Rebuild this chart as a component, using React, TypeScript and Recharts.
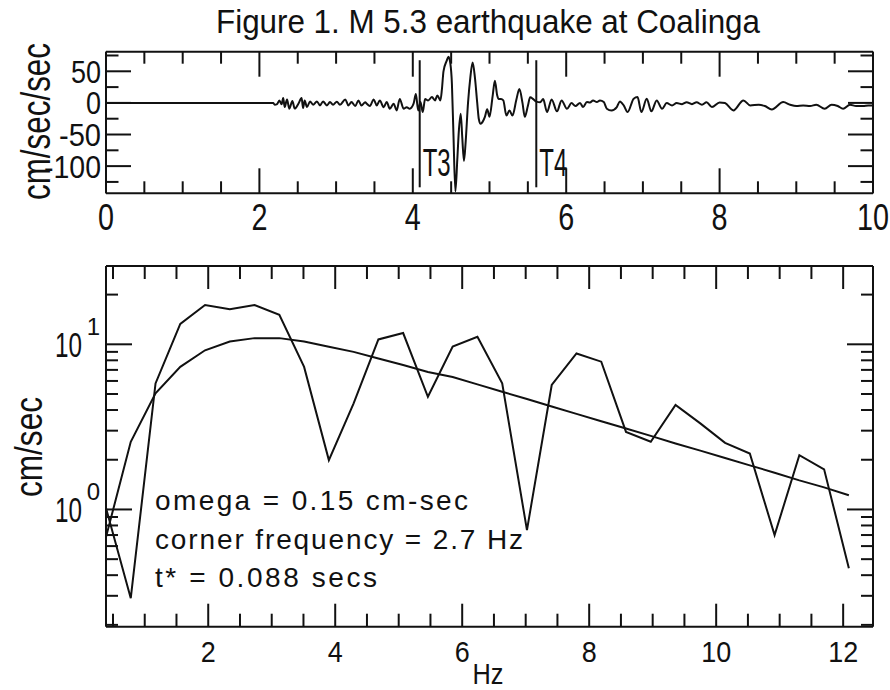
import React from "react";
import { LineChart, Line, XAxis, YAxis, ReferenceLine } from "recharts";

const TITLE = "Figure 1. M 5.3 earthquake at Coalinga";

// seismogram (seconds, cm/sec/sec)
const TRACE_T = [
  0, 2.18, 2.2, 2.23, 2.26, 2.29, 2.31, 2.33, 2.36, 2.39, 2.43, 2.46, 2.51, 2.55,
  2.57, 2.59, 2.62, 2.66, 2.7, 2.75, 2.79, 2.83, 2.88, 2.92, 2.96, 3.01, 3.05,
  3.12, 3.16, 3.2, 3.25, 3.29, 3.33, 3.38, 3.4, 3.44, 3.49, 3.53, 3.57, 3.62,
  3.66, 3.7, 3.75, 3.79, 3.83, 3.88, 3.92, 3.96, 4.01, 4.04, 4.07, 4.1, 4.13,
  4.16, 4.2, 4.25, 4.29, 4.32, 4.36, 4.38, 4.4, 4.44, 4.465, 4.49, 4.51, 4.53,
  4.555, 4.58, 4.6, 4.625, 4.645, 4.667, 4.69, 4.72, 4.75, 4.78, 4.81, 4.84,
  4.86, 4.885, 4.91, 4.94, 4.97, 5.0, 5.04, 5.07, 5.1, 5.12, 5.15, 5.18, 5.22,
  5.26, 5.3, 5.35, 5.39, 5.43, 5.46, 5.5, 5.53, 5.57, 5.61, 5.66, 5.7, 5.75,
  5.81, 5.88, 5.94, 6.01, 6.07, 6.12, 6.18, 6.22, 6.27, 6.31, 6.35, 6.4, 6.44,
  6.49, 6.53, 6.59, 6.66, 6.7, 6.75, 6.8, 6.88, 6.93, 6.98, 7.05, 7.11, 7.18,
  7.25, 7.31, 7.38, 7.44, 7.51, 7.57, 7.64, 7.7, 7.77, 7.83, 7.9, 8.0, 8.07,
  8.18, 8.31, 8.4, 8.51, 8.59, 8.68, 8.83, 8.92, 9.0, 9.09, 9.18, 9.26, 9.37,
  9.46, 9.54, 9.61, 9.7, 9.78, 9.87, 9.94, 10.0,
];
const TRACE_V = [
  0, 0, -3, -2, 4, -2, 7.6, -6.6, 5.5, -9.2, 3, -9, -1, 7.6,
  -8.2, 4, -6.6, 2.4, -2.9, 2.4, -4, 2.4, -4, 1.3, -2.9, 2, -3,
  5.5, -4, 1.3, -5, 4, -4, 1, -1.3, -5, 5.5, -4, 3.9, -6.7,
  1.3, -9.2, -1.3, -11.9, 6.3, -9.2, -6.7, -9.2, -1.3, 14.2, -11.9, 1.3, -14.5,
  6.3, 3.9, 9.2, 3.9, 11.9, 3.9, 22, 50, 66, 73, 62, 30, -50,
  -140, -90, -45, -17, -55, -92, -60, 0, 40, 64, 40, 0,
  -25, -33, -30, -22, -10, -22, 10, 35, 12, 6, 6, 4, -20,
  -12, -20, 5, 22, 0, -22, -5, 9, 6, 2, 1, 6, -14.5,
  5.5, -13.4, 4, -9.2, -0.3, -5, 0, -6.6, 1.3, 0.5, 4, 1.3, 4,
  1.3, -9.2, -11.9, -6.6, 2.4, -4, -14.5, 6.6, 9.2, -14.5, 6.6, -13.4, 4,
  -9.2, -0.3, -4, -0.3, -2, 1, -2, 1, -3, 1, -6.6, 0.8, -0.3,
  -11.9, 4, -4, -2.9, -5, -10.3, 1.3, -2.9, -5, -4, -5, -2.9, -9.2,
  -2.9, -5, -9.2, -2.9, -5, -5, -4, -4,
];

const TOP_X_TICKS = [0, 0.5, 1, 1.5, 2, 2.5, 3, 3.5, 4, 4.5, 5, 5.5, 6, 6.5, 7, 7.5, 8, 8.5, 9, 9.5, 10];
const TOP_X_LABELS = [0, 2, 4, 6, 8, 10];
const TOP_Y_TICKS = [75, 50, 25, 0, -25, -50, -75, -100, -125];
const TOP_Y_LABELS = [50, 0, -50, -100];
const PICK_NAMES = ["T3", "T4"];
const PICK_TIMES = [4.09, 5.61];

// spectrum (Hz, cm/sec)
const FREQ = [
  0.39, 0.78, 1.17, 1.56, 1.95, 2.34, 2.73, 3.12, 3.51, 3.9, 4.29, 4.68, 5.07,
  5.46, 5.85, 6.24, 6.63, 7.02, 7.41, 7.8, 8.19, 8.58, 8.97, 9.36, 9.75, 10.14,
  10.53, 10.92, 11.31, 11.7, 12.09,
];
const SPECTRUM = [
  1.02, 0.29, 5.8, 13.3, 17.3, 16.3, 17.3, 15.1, 7.3, 1.99, 4.39, 10.7, 11.7,
  4.81, 9.7, 11.1, 5.8, 0.75, 5.67, 8.8, 7.85, 2.95, 2.57, 4.29, 3.32, 2.53,
  2.18, 0.7, 2.13, 1.75, 0.44,
];
const MODEL = [
  0.68, 2.57, 5.05, 7.3, 9.2, 10.4, 10.9, 10.9, 10.4, 9.67, 9.0, 8.2, 7.5,
  6.8, 6.34, 5.72, 5.16, 4.66, 4.2, 3.79, 3.42, 3.09, 2.79, 2.51, 2.27, 2.05,
  1.85, 1.67, 1.5, 1.36, 1.22,
];

const BOT_X_TICKS = [0.5, 1, 1.5, 2, 2.5, 3, 3.5, 4, 4.5, 5, 5.5, 6, 6.5, 7, 7.5, 8, 8.5, 9, 9.5, 10, 10.5, 11, 11.5, 12];
const BOT_X_LABELS = [2, 4, 6, 8, 10, 12];
const BOT_Y_TICKS = [0.2, 0.3, 0.4, 0.5, 0.6, 0.7, 0.8, 0.9, 1, 2, 3, 4, 5, 6, 7, 8, 9, 10, 20];
const BOT_Y_LABELS = [1, 10];
const NOTES = ["omega = 0.15 cm-sec", "corner frequency = 2.7 Hz", "t* = 0.088 secs"];
const NOTE_WIDTHS = [313, 368, 222];

const traceData = TRACE_T.map((t, i) => ({ t, v: TRACE_V[i] }));
const specData = FREQ.map((f, i) => ({ f, obs: SPECTRUM[i], fit: MODEL[i] }));

const FONT = "'Liberation Sans', Arial, sans-serif";
const INK = "#111";
const AXIS_LINE = { stroke: INK, strokeWidth: 2 };

const isIn = (list: number[], v: number) => list.some((l) => Math.abs(l - v) < 1e-6);

// inward tick marks; label only the major ones
const makeTick =
  (side: string, labels: number[], major: number, minor: number, label?: (x: number, y: number, v: number) => any) =>
  (props: any) => {
    const { x, y, payload } = props;
    const v = payload.value;
    const big = isIn(labels, v);
    const len = big ? major : minor;
    let x2 = x;
    let y2 = y;
    if (side === "bottom") y2 = y - len;
    if (side === "top") y2 = y + len;
    if (side === "left") x2 = x + len;
    if (side === "right") x2 = x - len;
    return (
      <g>
        <line x1={x} y1={y} x2={x2} y2={y2} stroke={INK} strokeWidth={2} />
        {big && label ? label(x, y, v) : null}
      </g>
    );
  };

const condensed = (s: string, digit: number) =>
  s.split("").reduce((w, c) => w + (c === "-" ? digit * 0.8 : digit), 0);

const topXLabel = (x: number, y: number, v: number) => (
  <text x={x} y={y + 37} textAnchor="middle" fontFamily={FONT} fontSize={36} fill={INK}
    textLength={condensed(String(v), 16)} lengthAdjust="spacingAndGlyphs">
    {v}
  </text>
);
const topYLabel = (x: number, y: number, v: number) => (
  <text x={x - 5} y={y + 11.5} textAnchor="end" fontFamily={FONT} fontSize={32} fill={INK}
    textLength={condensed(String(v), 15)} lengthAdjust="spacingAndGlyphs">
    {v}
  </text>
);
const botXLabel = (x: number, y: number, v: number) => (
  <text x={x} y={y + 35} textAnchor="middle" fontFamily={FONT} fontSize={30} fill={INK}
    textLength={condensed(String(v), 15)} lengthAdjust="spacingAndGlyphs">
    {v}
  </text>
);
const botYLabel = (x: number, y: number, v: number) => (
  <g fontFamily={FONT} fill={INK}>
    <text x={x - 24} y={y + 12.5} textAnchor="end" fontSize={35} textLength={27} lengthAdjust="spacingAndGlyphs">
      10
    </text>
    <text x={x - 6} y={y - 9} textAnchor="end" fontSize={24}>
      {Math.round(Math.log10(v))}
    </text>
  </g>
);

const pickLabel = (name: string) => (p: any) => {
  const vb = p.viewBox || {};
  return (
    <text x={(vb.x || 0) + 3} y={(vb.y || 0) + (vb.height || 0) - 11} fontFamily={FONT} fontSize={38} fill={INK}
      textLength={28} lengthAdjust="spacingAndGlyphs">
      {name}
    </text>
  );
};

const App = () => {
  return (
    <div style={{ position: "absolute", left: 0, top: 0, width: 890, height: 690, background: "#fff" }}>
      <div style={{ position: "absolute", left: 0, top: 0 }}>
        <LineChart width={890} height={240} data={traceData} margin={{ top: 41.7, right: 7, bottom: 16.7, left: 56 }}>
          <XAxis dataKey="t" type="number" domain={[0, 10]} ticks={TOP_X_TICKS} interval={0} allowDataOverflow
            tickLine={false} tickSize={0} tickMargin={0} height={30} axisLine={AXIS_LINE}
            tick={makeTick("bottom", TOP_X_LABELS, 25, 12, topXLabel)} />
          <XAxis xAxisId="top" dataKey="t" orientation="top" type="number" domain={[0, 10]} ticks={TOP_X_TICKS}
            interval={0} allowDataOverflow tickLine={false} tickSize={0} tickMargin={0} height={10}
            axisLine={AXIS_LINE} tick={makeTick("top", TOP_X_LABELS, 25, 12)} />
          <YAxis type="number" domain={[-143, 81]} ticks={TOP_Y_TICKS} interval={0} allowDataOverflow
            tickLine={false} tickSize={0} tickMargin={0} width={50} axisLine={AXIS_LINE}
            tick={makeTick("left", TOP_Y_LABELS, 25, 12.5, topYLabel)} />
          <YAxis yAxisId="r" orientation="right" type="number" domain={[-143, 81]} ticks={TOP_Y_TICKS} interval={0}
            allowDataOverflow tickLine={false} tickSize={0} tickMargin={0} width={10} axisLine={AXIS_LINE}
            tick={makeTick("right", TOP_Y_LABELS, 25, 12.5)} />
          {PICK_TIMES.map((t, i) => (
            <ReferenceLine key={PICK_NAMES[i]} segment={[{ x: t, y: 67.5 }, { x: t, y: -133.5 }]}
              stroke={INK} strokeWidth={2} label={pickLabel(PICK_NAMES[i])} />
          ))}
          <Line type="monotone" dataKey="v" stroke={INK} strokeWidth={2} dot={false} isAnimationActive={false} />
        </LineChart>
      </div>

      <div style={{ position: "absolute", left: 0, top: 240 }}>
        <LineChart width={890} height={450} data={specData} margin={{ top: 16, right: 7, bottom: 33.3, left: 56 }}>
          <XAxis dataKey="f" type="number" domain={[0.39, 12.47]} ticks={BOT_X_TICKS} interval={0} allowDataOverflow
            tickLine={false} tickSize={0} tickMargin={0} height={30} axisLine={AXIS_LINE}
            tick={makeTick("bottom", BOT_X_LABELS, 23, 13, botXLabel)} />
          <XAxis xAxisId="top" dataKey="f" orientation="top" type="number" domain={[0.39, 12.47]} ticks={BOT_X_TICKS}
            interval={0} allowDataOverflow tickLine={false} tickSize={0} tickMargin={0} height={10}
            axisLine={AXIS_LINE} tick={makeTick("top", BOT_X_LABELS, 23, 13)} />
          <YAxis type="number" scale="log" domain={[0.195, 29.8]} ticks={BOT_Y_TICKS} interval={0} allowDataOverflow
            tickLine={false} tickSize={0} tickMargin={0} width={50} axisLine={AXIS_LINE}
            tick={makeTick("left", BOT_Y_LABELS, 26, 12, botYLabel)} />
          <YAxis yAxisId="r" orientation="right" type="number" scale="log" domain={[0.195, 29.8]} ticks={BOT_Y_TICKS}
            interval={0} allowDataOverflow tickLine={false} tickSize={0} tickMargin={0} width={10} axisLine={AXIS_LINE}
            tick={makeTick("right", BOT_Y_LABELS, 26, 12)} />
          <Line type="linear" dataKey="obs" stroke={INK} strokeWidth={2} dot={false} isAnimationActive={false} />
          <Line type="linear" dataKey="fit" stroke={INK} strokeWidth={2} dot={false} isAnimationActive={false} />
        </LineChart>
      </div>

      <svg width={890} height={690} style={{ position: "absolute", left: 0, top: 0, pointerEvents: "none" }}>
        <g fontFamily={FONT} fill={INK}>
          <text x={488} y={33} textAnchor="middle" fontSize={34} textLength={544} lengthAdjust="spacingAndGlyphs">
            {TITLE}
          </text>
          <text transform="translate(50,121.5) rotate(-90)" textAnchor="middle" fontSize={40}
            textLength={157} lengthAdjust="spacingAndGlyphs">
            cm/sec/sec
          </text>
          <text transform="translate(42,447) rotate(-90)" textAnchor="middle" fontSize={38}
            textLength={100} lengthAdjust="spacingAndGlyphs">
            cm/sec
          </text>
          <text x={488} y={684} textAnchor="middle" fontSize={29} textLength={31} lengthAdjust="spacingAndGlyphs">
            Hz
          </text>
          {NOTES.map((n, i) => (
            <text key={n} x={155} y={510 + i * 38.5} fontSize={28} textLength={NOTE_WIDTHS[i]} lengthAdjust="spacing">
              {n}
            </text>
          ))}
        </g>
      </svg>
    </div>
  );
};

export default App;
